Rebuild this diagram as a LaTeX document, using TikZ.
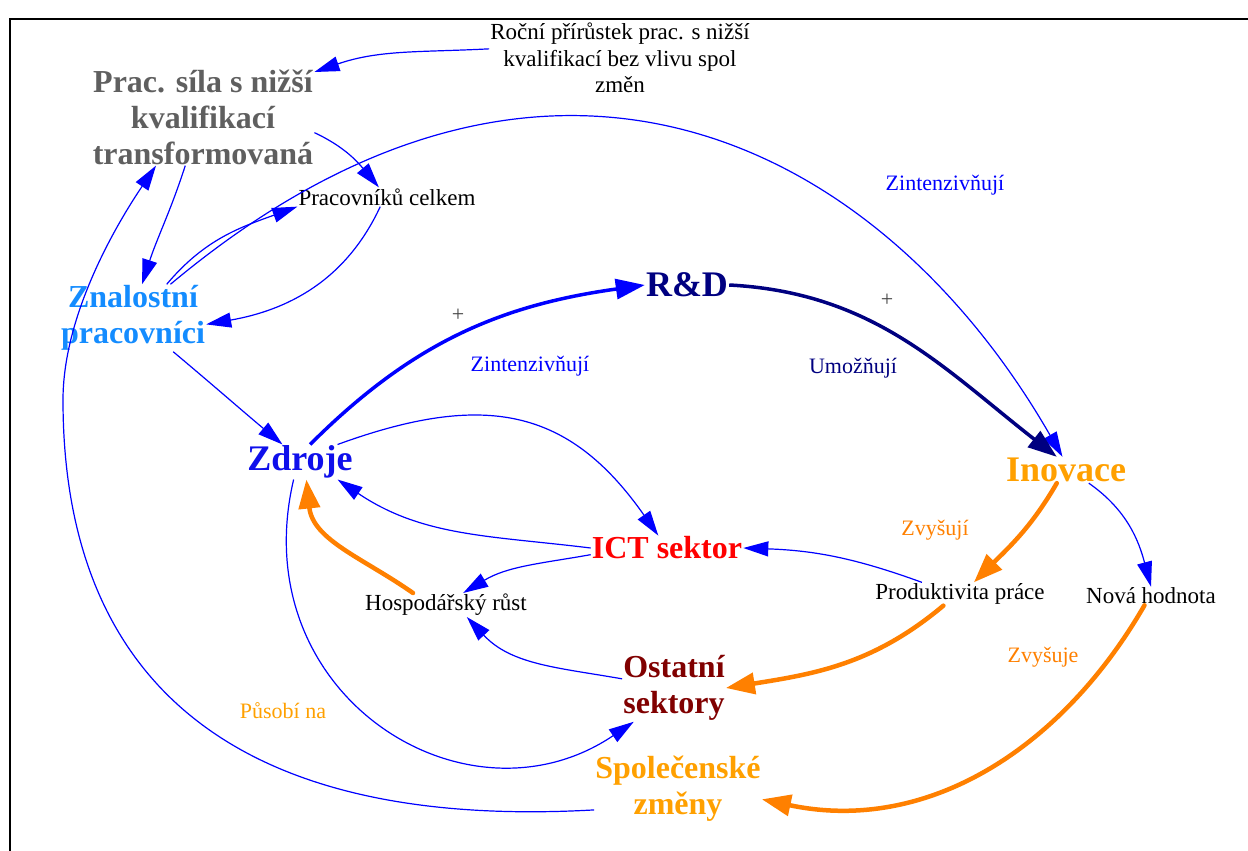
\documentclass[tikz,border=0pt]{standalone}
\usepackage{fontspec}
\setmainfont{Liberation Serif}
\usetikzlibrary{arrows.meta}

\definecolor{pracgray}{RGB}{95,95,95}
\definecolor{znalblue}{RGB}{20,140,255}
\definecolor{zdrblue}{RGB}{15,15,235}
\definecolor{rdnavy}{RGB}{0,0,128}
\definecolor{inovorange}{RGB}{255,160,0}
\definecolor{arrorange}{RGB}{255,128,0}
\definecolor{ostred}{RGB}{128,0,0}
\definecolor{plusgray}{RGB}{70,70,70}

\begin{document}
\begin{tikzpicture}
  [x=1pt,y=1pt,
   every node/.style={inner sep=1pt,align=center},
   txt/.style={font=\fontsize{23}{26.5}\selectfont},
   boldtxt/.style={font=\fontsize{32}{36}\selectfont\bfseries},
   bigtxt/.style={font=\fontsize{36}{40}\selectfont\bfseries},
   lbl/.style={font=\fontsize{22}{24}\selectfont},
   thinarr/.style={draw=blue,line width=1.2pt,-{Triangle[length=25pt,width=15pt]}},
   thickarr/.style={line width=3.5pt,-{Triangle[length=29pt,width=20pt]}},
   orangearr/.style={draw=arrorange,line width=4.5pt,line cap=round,-{Triangle[length=29pt,width=21pt]}}]

  \useasboundingbox (0,0) rectangle (1248,-851);
  \draw[line width=1.5pt] (10,-851) -- (10,-19) -- (1248,-19);

  \node[txt] (roc) at (620,-58) {Roční přírůstek prac. s nižší\\kvalifikací bez vlivu spol\\změn};
  \node[boldtxt,text=pracgray] (prac) at (203,-117) {Prac. síla s nižší\\kvalifikací\\transformovaná};
  \node[txt] (celk) at (387,-197) {Pracovníků celkem};
  \node[boldtxt,text=znalblue] (znal) at (133,-318) {Znalostní\\pracovníci};
  \node[bigtxt,text=zdrblue] (zdr) at (300,-462) {Zdroje};
  \node[bigtxt,text=rdnavy] (rd) at (687,-285) {R\&D};
  \node[bigtxt,text=inovorange] (inov) at (1066,-470) {Inovace};
  \node[boldtxt,text=red] (ict) at (667,-548) {ICT sektor};
  \node[txt] (hosp) at (446,-605) {Hospodářský růst};
  \node[txt] (prod) at (960,-594) {Produktivita práce};
  \node[txt] (nova) at (1151,-596) {Nová hodnota};
  \node[boldtxt,text=ostred] (ost) at (674,-688) {Ostatní\\sektory};
  \node[boldtxt,text=inovorange] (spol) at (678,-789) {Společenské\\změny};

  % popisky vazeb
  \node[lbl,text=blue] (zint1) at (945,-185) {Zintenzivňují};
  \node[lbl,text=blue] (zint2) at (530,-366) {Zintenzivňují};
  \node[lbl,text=rdnavy] (umoz) at (853,-368) {Umožňují};
  \node[lbl,text=arrorange] (zvys1) at (935,-530) {Zvyšují};
  \node[lbl,text=arrorange] (zvys2) at (1043,-657) {Zvyšuje};
  \node[lbl,text=inovorange] (pusobi) at (283,-711) {Působí na};
  \node[lbl,text=plusgray] (plus1) at (458,-315) {+};
  \node[lbl,text=plusgray] (plus2) at (887,-300) {+};

  \foreach \from/\to/\o/\i in {roc.176/prac.22/183/19, prac.-8/celk.130/-25/130,
      prac.250/znal.75/-108/72, znal.45/celk.south west/50/200,
      celk.-125/znal.-5/-115/10, znal.-40/zdr.135/-40/140,
      ict.180/zdr.-25/173/-34, ict.185/hosp.35/190/31,
      prod.163/ict.east/160/-2, ost.170/hosp.-30/170/-47,
      inov.-30/nova.north/-35/105}
    \draw[thinarr] (\from) to[out=\o,in=\i] (\to);

  \draw[thinarr] (zdr.25) to[out=20,in=125,looseness=1.2] (ict.125);
  \draw[thinarr] (znal.42) .. controls (553,36) and (885,-148) .. (inov.105);
  \draw[thinarr] (zdr.-110) .. controls (243,-695) and (466,-835) .. (ost.220);
  \draw[thinarr] (spol.194) .. controls (150,-835) and (63,-600) .. (63,-400)
    .. controls (63,-320) and (110,-234) .. (prac.226);

  \draw[thickarr,draw=blue] (zdr.60) to[out=45,in=188] (rd.west);
  \draw[thickarr,draw=rdnavy] (rd.east) to[out=-3,in=142] (inov.125);

  \draw[orangearr] (hosp.160) to[out=145,in=-84] (zdr.-70);
  \draw[orangearr] (inov.-125) to[out=-120,in=45] (prod.40);
  \draw[orangearr] (prod.-145) to[out=-140,in=9] (ost.east);
  \draw[orangearr] (nova.-125) to[out=-120,in=-12] (spol.-7);

\end{tikzpicture}
\end{document}
